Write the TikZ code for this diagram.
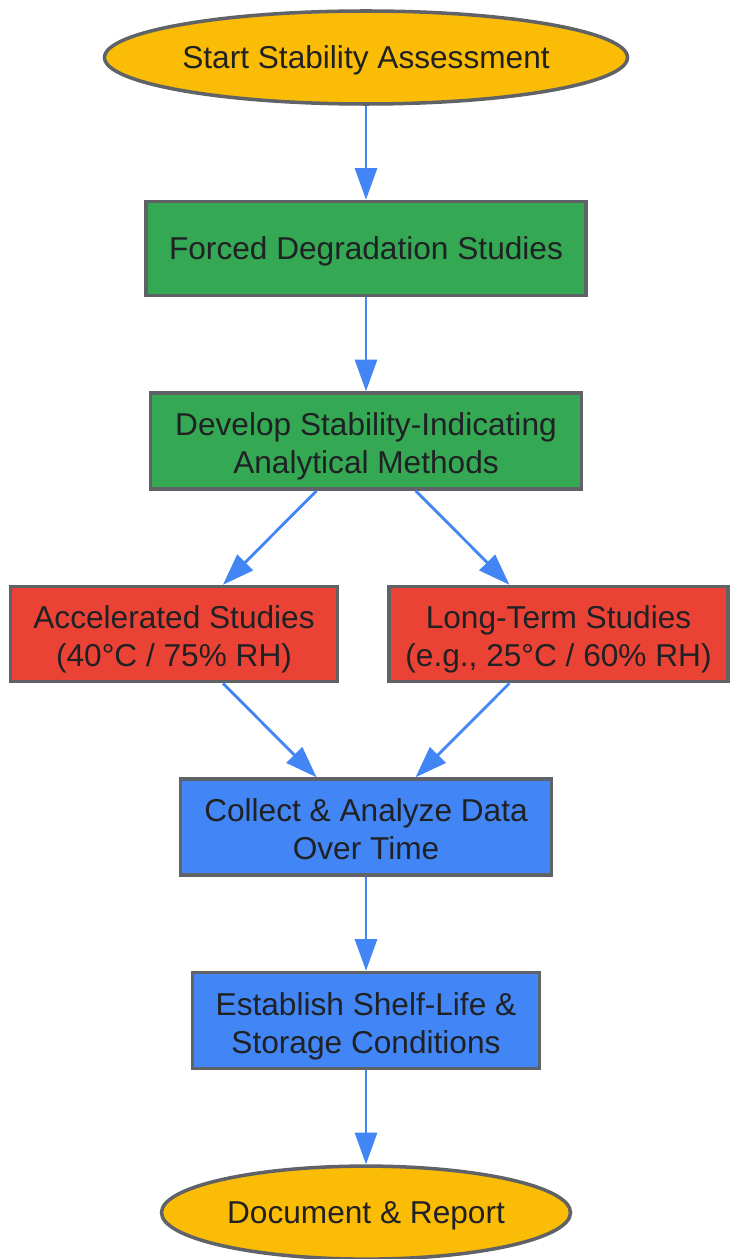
\documentclass[tikz,border=0pt]{standalone}
\usepackage{fontspec}
\setmainfont{Liberation Sans}
\usepackage{tikz}
\usetikzlibrary{positioning,shapes.geometric,arrows.meta}

\definecolor{gyellow}{HTML}{FBBC05}
\definecolor{ggreen}{HTML}{34A853}
\definecolor{gred}{HTML}{EA4335}
\definecolor{gblue}{HTML}{4285F4}
\definecolor{gborder}{HTML}{5F6368}
\definecolor{gtext}{HTML}{202124}

\tikzset{
    box/.style={draw=gborder, line width=2pt, text=gtext, align=center, inner sep=0pt,
        font=\fontsize{18}{21.6}\selectfont, text height=12.9pt, text depth=0pt},
    twoline/.style={text height=37pt},
    terminal/.style={box, ellipse, fill=gyellow, minimum height=1.86cm},
    forced/.style={box, rectangle, fill=ggreen},
    study/.style={box, twoline, rectangle, fill=gred, minimum height=1.9cm},
    result/.style={box, twoline, rectangle, fill=gblue, minimum height=1.92cm},
    flow/.style={draw=gblue, line width=1.6pt, -{Triangle[length=18pt,width=12.5pt]}}
}

\begin{document}
\begin{tikzpicture}[node distance=1.88cm]
    \useasboundingbox (0,0) rectangle (14.58,-25.18);

    \node[terminal, minimum width=10.46cm]                  (start)    at (7.32,-1.15) {Start Stability Assessment};
    \node[forced, minimum width=8.8cm, minimum height=1.88cm, below=of start]   (degrade)  {Forced Degradation Studies};
    \node[forced, twoline, minimum width=8.62cm, minimum height=1.92cm, below=of degrade] (method) {Develop Stability-Indicating\\Analytical Methods};
    \node[study, minimum width=6.54cm, below=of method, xshift=-3.84cm]          (accel)    {Accelerated Studies\\(40°C / 75\% RH)};
    \node[study, minimum width=6.78cm, right=0.96cm of accel]                    (longterm) {Long-Term Studies\\(e.g., 25°C / 60\% RH)};
    \node[result, minimum width=7.42cm, below=of accel, xshift=3.84cm]           (collect)  {Collect \& Analyze Data\\Over Time};
    \node[result, minimum width=6.94cm, below=of collect]                        (shelf)    {Establish Shelf-Life \&\\Storage Conditions};
    \node[terminal, minimum width=8.18cm, below=of shelf]                        (report)   {Document \& Report};

    \draw[flow] (start) -- (degrade);
    \draw[flow] (degrade) -- (method);
    \draw[flow] (method) -- (accel);
    \draw[flow] (method) -- (longterm);
    \draw[flow] (accel) -- (collect);
    \draw[flow] (longterm) -- (collect);
    \draw[flow] (collect) -- (shelf);
    \draw[flow] (shelf) -- (report);
\end{tikzpicture}
\end{document}
